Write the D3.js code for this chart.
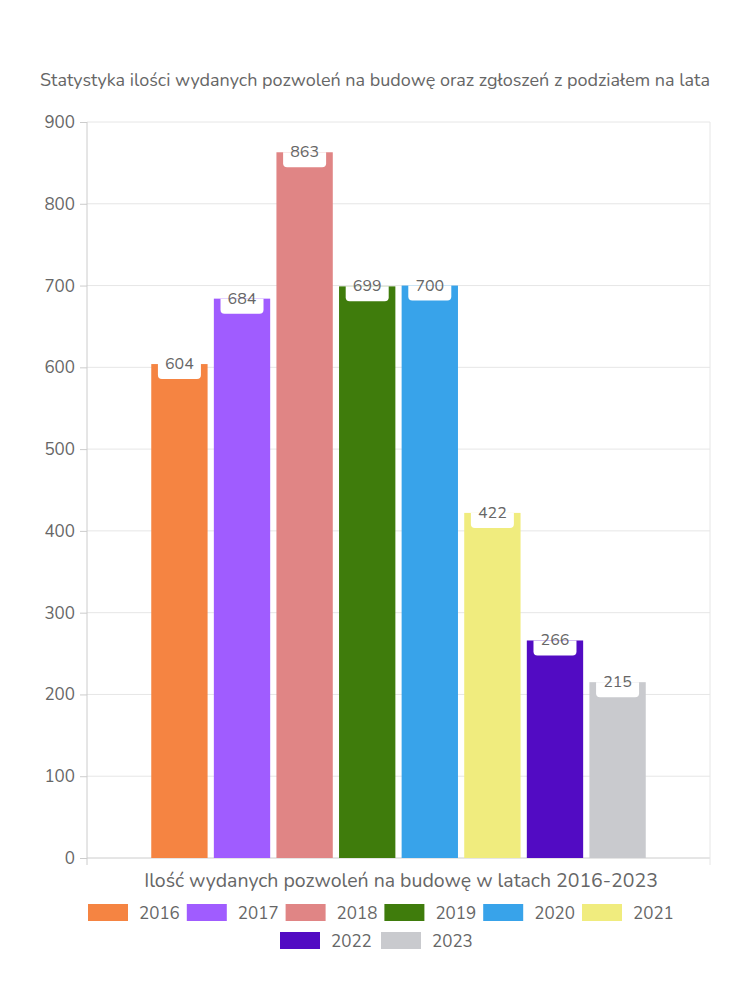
<!DOCTYPE html>
<html>
<head>
<meta charset="utf-8">
<script src="https://cdn.jsdelivr.net/npm/d3@7"></script>
<style>
  body { margin: 0; background: #fff; }
  text { font-family: "Nunito", "Lato", "Noto Sans", sans-serif; fill: #666; }
</style>
</head>
<body>
<svg id="chart"></svg>
<script>
const years = ["2016", "2017", "2018", "2019", "2020", "2021", "2022", "2023"];
const permits = [604, 684, 863, 699, 700, 422, 266, 215];
const colors = ["#f58442", "#a05cff", "#e08585", "#3f7c0c", "#38a3ea", "#f0ec7e", "#520bc3", "#c9cace"];
const yTicks = [0, 100, 200, 300, 400, 500, 600, 700, 800, 900];
const title = "Statystyka ilości wydanych pozwoleń na budowę oraz zgłoszeń z podziałem na lata";
const xLabel = "Ilość wydanych pozwoleń na budowę w latach 2016-2023";

const width = 750, height = 1000;
const margin = { top: 122, right: 40, bottom: 142, left: 87 };
const innerW = width - margin.left - margin.right;
const innerH = height - margin.top - margin.bottom;

const svg = d3.select("#chart").attr("width", width).attr("height", height);

svg.append("text")
    .attr("x", 375)
    .attr("y", 86)
    .attr("text-anchor", "middle")
    .style("font-size", "18px")
    .text(title);

const g = svg.append("g").attr("transform", `translate(${margin.left},${margin.top})`);

const yScale = d3.scaleLinear().domain([0, 900]).range([innerH, 0]);
const groupScale = d3.scaleBand().domain(["all"]).range([0, innerW]).padding(0.115);
const xScale = d3.scaleBand().domain(years)
    .range([groupScale("all"), groupScale("all") + groupScale.bandwidth()])
    .paddingInner(0.1);

// grid
g.append("g")
    .selectAll("line")
    .data(yTicks)
    .join("line")
    .attr("x1", 0).attr("x2", innerW)
    .attr("y1", d => yScale(d)).attr("y2", d => yScale(d))
    .attr("stroke", d => d === 0 ? "#ccc" : "#e6e6e6");

// right border
g.append("line")
    .attr("x1", innerW).attr("x2", innerW)
    .attr("y1", 0).attr("y2", innerH + 7)
    .attr("stroke", "#e6e6e6");

// y axis
const yAxis = g.append("g")
    .call(d3.axisLeft(yScale).tickValues(yTicks).tickSize(7).tickPadding(5));
yAxis.select(".domain").attr("stroke", "#ccc").attr("d", `M0,0V${innerH + 7}`);
yAxis.selectAll(".tick line").attr("stroke", "#ccc");
yAxis.selectAll(".tick text").style("font-size", "17px").attr("fill", "#666");

// bars
const data = years.map((y, i) => ({ year: y, value: permits[i], color: colors[i] }));

g.append("g")
    .selectAll("rect")
    .data(data)
    .join("rect")
    .attr("x", d => xScale(d.year))
    .attr("y", d => yScale(d.value))
    .attr("width", xScale.bandwidth())
    .attr("height", d => innerH - yScale(d.value))
    .attr("fill", d => d.color);

// value labels
const boxW = 43, boxH = 15, r = 4;
const labels = g.append("g")
    .selectAll("g")
    .data(data)
    .join("g")
    .attr("transform", d => `translate(${xScale(d.year) + xScale.bandwidth() / 2},${yScale(d.value)})`);

labels.append("path")
    .attr("d", `M${-boxW / 2},0H${boxW / 2}V${boxH - r}Q${boxW / 2},${boxH} ${boxW / 2 - r},${boxH}H${-boxW / 2 + r}Q${-boxW / 2},${boxH} ${-boxW / 2},${boxH - r}Z`)
    .attr("fill", "#fff");

labels.append("text")
    .attr("text-anchor", "middle")
    .attr("y", 5)
    .style("font-size", "16px")
    .text(d => d.value);

// x label
svg.append("text")
    .attr("x", 401)
    .attr("y", 887)
    .attr("text-anchor", "middle")
    .style("font-size", "19.5px")
    .text(xLabel);

// legend
const rows = [years.slice(0, 6), years.slice(6)];
const rowStarts = [88, 280];
const rowStep = [98.8, 101];
rows.forEach((row, ri) => {
    const lg = svg.append("g").attr("transform", `translate(${rowStarts[ri]},${904 + ri * 28})`);
    const items = lg.selectAll("g")
        .data(row)
        .join("g")
        .attr("transform", (d, i) => `translate(${i * rowStep[ri]},0)`);
    items.append("rect")
        .attr("width", 40).attr("height", 17)
        .attr("fill", d => colors[years.indexOf(d)]);
    items.append("text")
        .attr("x", 51).attr("y", 15)
        .style("font-size", "17px")
        .text(d => d);
});
</script>
</body>
</html>
